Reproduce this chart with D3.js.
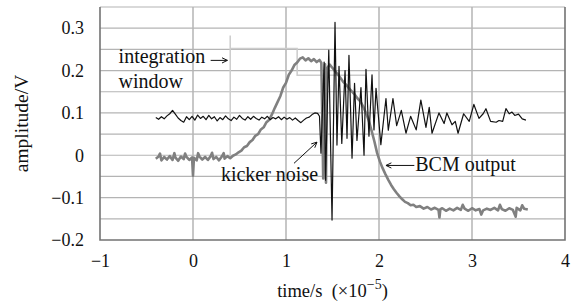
<!DOCTYPE html>
<html>
<head>
<meta charset="utf-8">
<script src="https://cdn.jsdelivr.net/npm/d3@7"></script>
<style>
  body { margin: 0; background: #fff; }
</style>
</head>
<body>
<div class="container"></div>
<script>
let width = 574
let height = 304
let margin = {
    left: 100,
    right: 9,
    top: 7,
    bottom: 64
}
const serif = '"Liberation Serif", "Times New Roman", Times, "DejaVu Serif", serif'

const xTicks = [-1, 0, 1, 2, 3, 4]
const yTicks = [-0.2, -0.1, 0, 0.1, 0.2, 0.3]
const yGrid = [-0.15, -0.1, -0.05, 0, 0.05, 0.1, 0.15, 0.2, 0.25, 0.3]
const xGrid = [0, 1, 2, 3]

// integration window gate (time in 1e-5 s, amplitude in V)
const windowRise = [[0.40, -0.005], [0.40, 0.283]]
const windowGate = [[0.40, 0.252], [1.12, 0.252], [1.12, 0.189], [1.86, 0.189]]

// BCM output, grey trace
const bcmTrace = [
    [-0.40, -0.008], [-0.37, -0.003], [-0.355, 0.004], [-0.34, -0.012], [-0.31, -0.004], [-0.28, -0.010],
    [-0.25, -0.002], [-0.22, -0.011], [-0.20, 0.005], [-0.19, -0.005], [-0.16, -0.013], [-0.13, -0.003],
    [-0.10, -0.009], [-0.085, 0.004], [-0.07, -0.004], [-0.04, -0.011], [-0.01, -0.005], [0.00, -0.048],
    [0.01, -0.006], [0.04, -0.012], [0.055, 0.005], [0.07, -0.003], [0.10, -0.010], [0.13, -0.004],
    [0.16, -0.011], [0.19, -0.002], [0.205, 0.006], [0.22, -0.009], [0.25, -0.004], [0.28, -0.012],
    [0.31, -0.003], [0.33, 0.005], [0.34, -0.008], [0.37, -0.002], [0.40, -0.007],
    [0.43, -0.001], [0.46, 0.002], [0.49, 0.007], [0.52, 0.011], [0.55, 0.019], [0.58, 0.022],
    [0.61, 0.031], [0.64, 0.036], [0.67, 0.046], [0.70, 0.050], [0.73, 0.061], [0.76, 0.066],
    [0.79, 0.078], [0.82, 0.084], [0.85, 0.097], [0.88, 0.112], [0.91, 0.126], [0.94, 0.140],
    [0.97, 0.160], [1.00, 0.171], [1.03, 0.190], [1.06, 0.200], [1.09, 0.213], [1.12, 0.219],
    [1.15, 0.228], [1.18, 0.231], [1.21, 0.224], [1.24, 0.229], [1.27, 0.222], [1.30, 0.227],
    [1.33, 0.220], [1.36, 0.225], [1.38, 0.218], [1.39, 0.090], [1.40, -0.055], [1.41, 0.160],
    [1.42, 0.215], [1.43, -0.065], [1.44, 0.205], [1.47, 0.214], [1.50, 0.206], [1.53, 0.198],
    [1.56, 0.190], [1.59, 0.181], [1.62, 0.172], [1.65, 0.166], [1.68, 0.157], [1.71, 0.150],
    [1.74, 0.143], [1.77, 0.134], [1.80, 0.127], [1.83, 0.115], [1.86, 0.100], [1.89, 0.082],
    [1.92, 0.058], [1.95, 0.033], [1.98, 0.005], [2.01, -0.015], [2.04, -0.031], [2.07, -0.045],
    [2.10, -0.058], [2.13, -0.070], [2.16, -0.080], [2.19, -0.089], [2.22, -0.097], [2.25, -0.104],
    [2.28, -0.110], [2.31, -0.113], [2.34, -0.118], [2.37, -0.117], [2.40, -0.122], [2.44, -0.120],
    [2.48, -0.126], [2.52, -0.122], [2.56, -0.128], [2.60, -0.124], [2.64, -0.129], [2.65, -0.147],
    [2.66, -0.127], [2.68, -0.125], [2.72, -0.131], [2.76, -0.126], [2.80, -0.130], [2.84, -0.124],
    [2.88, -0.129], [2.90, -0.117], [2.92, -0.126], [2.96, -0.131], [3.00, -0.125], [3.04, -0.130],
    [3.08, -0.127], [3.10, -0.140], [3.12, -0.130], [3.16, -0.126], [3.20, -0.129], [3.24, -0.124],
    [3.28, -0.130], [3.30, -0.117], [3.32, -0.127], [3.36, -0.131], [3.40, -0.125], [3.44, -0.129],
    [3.47, -0.145], [3.48, -0.124], [3.52, -0.130], [3.54, -0.118], [3.56, -0.126], [3.60, -0.128]
]

// black trace with the kicker noise burst
const kickerTrace = [
    [-0.40, 0.089], [-0.37, 0.085], [-0.34, 0.091], [-0.31, 0.086], [-0.28, 0.093], [-0.25, 0.098],
    [-0.22, 0.106], [-0.19, 0.097], [-0.16, 0.088], [-0.13, 0.082], [-0.10, 0.078], [-0.07, 0.091],
    [-0.04, 0.084], [-0.01, 0.092], [0.02, 0.083], [0.05, 0.095], [0.08, 0.087], [0.11, 0.092],
    [0.14, 0.084], [0.17, 0.094], [0.20, 0.086], [0.23, 0.091], [0.26, 0.081], [0.29, 0.089],
    [0.32, 0.084], [0.35, 0.093], [0.38, 0.086], [0.41, 0.082], [0.44, 0.090], [0.47, 0.085],
    [0.50, 0.094], [0.53, 0.087], [0.56, 0.083], [0.59, 0.091], [0.62, 0.085], [0.65, 0.092],
    [0.68, 0.087], [0.71, 0.083], [0.74, 0.090], [0.77, 0.086], [0.80, 0.092], [0.83, 0.084],
    [0.86, 0.089], [0.89, 0.086], [0.92, 0.091], [0.95, 0.084], [0.98, 0.090], [1.01, 0.085],
    [1.04, 0.089], [1.07, 0.083], [1.10, 0.088], [1.13, 0.082], [1.16, 0.077], [1.19, 0.083],
    [1.22, 0.088], [1.25, 0.090], [1.28, 0.096], [1.31, 0.100], [1.34, 0.099], [1.36, 0.092],
    [1.376, 0.005], [1.41, 0.220], [1.425, -0.059], [1.46, 0.248], [1.495, -0.153], [1.527, 0.314],
    [1.548, 0.024], [1.57, 0.210], [1.60, 0.028], [1.635, 0.200], [1.656, 0.040], [1.677, 0.236],
    [1.71, -0.007], [1.737, 0.170], [1.763, 0.035], [1.806, 0.160], [1.839, 0.000], [1.86, 0.203],
    [1.892, 0.045], [1.925, 0.190], [1.946, 0.060], [1.968, 0.158], [2.02, 0.025], [2.075, 0.134],
    [2.10, 0.059], [2.15, 0.134], [2.19, 0.070], [2.24, 0.106], [2.29, 0.052], [2.34, 0.092],
    [2.40, 0.060], [2.45, 0.130], [2.505, 0.066], [2.54, 0.113], [2.57, 0.052], [2.645, 0.100],
    [2.70, 0.075], [2.73, 0.100], [2.785, 0.072], [2.82, 0.080], [2.85, 0.052], [2.91, 0.098],
    [2.97, 0.080], [3.02, 0.120], [3.075, 0.087], [3.12, 0.098], [3.15, 0.110], [3.20, 0.080],
    [3.26, 0.078], [3.29, 0.082], [3.33, 0.080], [3.365, 0.110], [3.40, 0.098], [3.43, 0.102],
    [3.46, 0.094], [3.50, 0.097], [3.54, 0.086], [3.58, 0.083]
]

const minus = (v) => String(v).replace('-', '\u2212')

let svg = d3.select('.container')
    .append('svg')
    .attr('width', width)
    .attr('height', height)
    .attr('font-family', serif)

let xScale = d3.scaleLinear()
    .domain([-1, 4])
    .range([margin.left, width - margin.right])

let yScale = d3.scaleLinear()
    .domain([-0.2, 0.35])
    .range([height - margin.bottom, margin.top])

// grid
svg.append('g')
    .selectAll('line')
    .data(yGrid)
    .enter()
    .append('line')
    .attr('x1', xScale(-1))
    .attr('x2', xScale(4))
    .attr('y1', (d) => yScale(d))
    .attr('y2', (d) => yScale(d))
    .attr('stroke', '#b4b4b4')
    .attr('stroke-width', 1.2)

svg.append('g')
    .selectAll('line')
    .data(xGrid)
    .enter()
    .append('line')
    .attr('x1', (d) => xScale(d))
    .attr('x2', (d) => xScale(d))
    .attr('y1', yScale(0.35))
    .attr('y2', yScale(-0.2))
    .attr('stroke', '#b4b4b4')
    .attr('stroke-width', 1.5)

// frame
svg.append('line')
    .attr('x1', xScale(-1)).attr('x2', xScale(4))
    .attr('y1', yScale(0.35)).attr('y2', yScale(0.35))
    .attr('stroke', '#b4b4b4').attr('stroke-width', 1.2)
svg.append('path')
    .attr('d', `M${xScale(-1)},${yScale(0.35)}V${yScale(-0.2)}H${xScale(4)}V${yScale(0.35)}`)
    .attr('fill', 'none')
    .attr('stroke', '#737373')
    .attr('stroke-width', 1.6)

let line = d3.line()
    .x((d) => xScale(d[0]))
    .y((d) => yScale(d[1]))

// integration window
svg.append('path')
    .attr('d', line(windowRise) + line(windowGate))
    .attr('fill', 'none')
    .attr('stroke', '#cccccc')
    .attr('stroke-width', 1.5)

svg.append('path')
    .attr('d', line(bcmTrace))
    .attr('fill', 'none')
    .attr('stroke', '#808080')
    .attr('stroke-width', 2.6)
    .attr('stroke-linejoin', 'round')

svg.append('path')
    .attr('d', line(kickerTrace))
    .attr('fill', 'none')
    .attr('stroke', '#111')
    .attr('stroke-width', 1.2)
    .attr('stroke-linejoin', 'round')

// axes
let xAxis = d3.axisBottom(xScale)
    .tickValues(xTicks)
    .tickSize(0)
    .tickPadding(14)
    .tickFormat(minus)

let yAxis = d3.axisLeft(yScale)
    .tickValues(yTicks)
    .tickSize(0)
    .tickPadding(16)
    .tickFormat(minus)

let gx = svg.append('g')
    .attr('transform', `translate(0,${height - margin.bottom})`)
    .call(xAxis)
let gy = svg.append('g')
    .attr('transform', `translate(${margin.left},0)`)
    .call(yAxis)

gx.select('.domain').remove()
gy.select('.domain').remove()
gx.attr('font-family', serif).attr('font-size', 18)
gy.attr('font-family', serif).attr('font-size', 18)
svg.selectAll('.tick text').attr('fill', '#111')

// axis titles
svg.append('text')
    .attr('transform', `translate(28,${yScale(0.075)}) rotate(-90)`)
    .attr('text-anchor', 'middle')
    .attr('font-size', 19.5)
    .attr('fill', '#111')
    .text('amplitude/V')

let xTitle = svg.append('text')
    .attr('x', (xScale(-1) + xScale(4)) / 2)
    .attr('y', 297)
    .attr('text-anchor', 'middle')
    .attr('font-size', 18.5)
    .attr('fill', '#111')
xTitle.append('tspan').text('time/s\u2002(\u00d710')
xTitle.append('tspan').attr('dy', -8).attr('font-size', 14).text('\u22125')
xTitle.append('tspan').attr('dy', 8).text(')')

// annotations
const arrow = (x1, y1, x2, y2) => {
    let a = Math.atan2(y2 - y1, x2 - x1)
    let h = 6
    let s = 0.45
    svg.append('path')
        .attr('d', `M${x1},${y1}L${x2},${y2}M${x2 - h * Math.cos(a - s)},${y2 - h * Math.sin(a - s)}L${x2},${y2}L${x2 - h * Math.cos(a + s)},${y2 - h * Math.sin(a + s)}`)
        .attr('fill', 'none')
        .attr('stroke', '#111')
        .attr('stroke-width', 1)
}

const note = (t, v, label) => {
    svg.append('text')
        .attr('x', xScale(t)).attr('y', yScale(v))
        .attr('font-size', 20)
        .attr('fill', '#111')
        .text(label)
}

note(-0.8, 0.217, 'integration')
note(-0.8, 0.158, 'window')
arrow(xScale(0.19), yScale(0.224), xScale(0.37), yScale(0.224))

note(0.30, -0.061, 'kicker noise')
arrow(xScale(1.086), yScale(-0.019), xScale(1.333), yScale(0.031))

note(2.39, -0.038, 'BCM output')
arrow(xScale(2.38), yScale(-0.024), xScale(2.075), yScale(-0.024))
</script>
</body>
</html>
